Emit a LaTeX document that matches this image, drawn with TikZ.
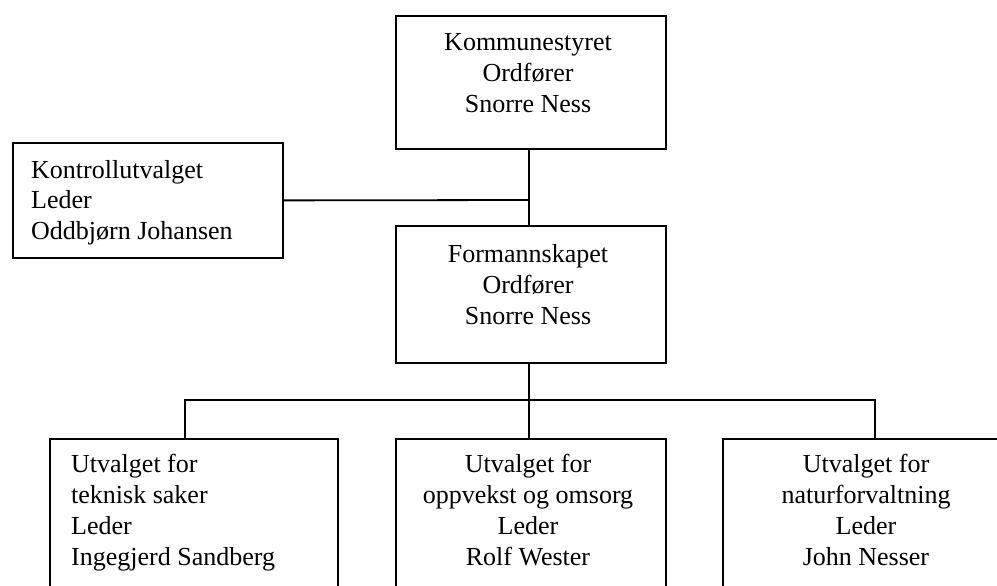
\documentclass[tikz,border=0pt]{standalone}
\usepackage{fontspec}
\setmainfont{Liberation Serif}
\begin{document}
\begin{tikzpicture}[x=1pt,y=-1pt,
  box/.style={draw=black, line width=1.8pt, rectangle, inner sep=0pt, anchor=north west},
  txt/.style={inner sep=0pt, anchor=base, font=\fontsize{26}{31}\selectfont},
  conn/.style={draw=black, line width=1.8pt}]
\useasboundingbox (0,0) rectangle (997,586);
\clip (0,0) rectangle (997,586);
% boxes
\node[box, minimum width=270pt, minimum height=133pt] (ks) at (395,15) {};
\node[box, minimum width=270pt, minimum height=115pt] (kon) at (12,142) {};
\node[box, minimum width=270pt, minimum height=137pt] (fk) at (395,225) {};
\node[box, minimum width=288pt, minimum height=170pt] (b1) at (49,438) {};
\node[box, minimum width=270pt, minimum height=170pt] (b2) at (395,438) {};
\node[box, minimum width=288pt, minimum height=170pt] (b3) at (722,438) {};
% texts
\node[txt] (tks) at (528,51) {\parbox[t]{260pt}{\centering Kommunestyret\\Ordfører\\Snorre Ness}};
\node[txt, anchor=base west] (tkon) at (31,178) {\parbox[t]{250pt}{\raggedright Kontrollutvalget\\Leder\\Oddbjørn Johansen}};
\node[txt] (tfk) at (528,262) {\parbox[t]{260pt}{\centering Formannskapet\\Ordfører\\Snorre Ness}};
\node[txt, anchor=base west] (tb1) at (71,472) {\parbox[t]{260pt}{\raggedright Utvalget for\\teknisk saker\\Leder\\Ingegjerd Sandberg}};
\node[txt] (tb2) at (528,472) {\parbox[t]{260pt}{\centering Utvalget for\\oppvekst og omsorg\\Leder\\Rolf Wester}};
\node[txt] (tb3) at (866,472) {\parbox[t]{260pt}{\centering Utvalget for\\naturforvaltning\\Leder\\John Nesser}};
% connectors
\coordinate (j) at (529,200);
\coordinate (d1) at (185,400);
\coordinate (d3) at (875,400);
\draw[conn] (ks.south -| j) -- (fk.north -| j);
\draw[conn] (kon.east) -- (j);
\draw[conn] (fk.south -| j) -- (b2.north -| j);
\draw[conn] (d1 |- b1.north) -- (d1) -- (d3) -- (d3 |- b3.north);
\end{tikzpicture}
\end{document}
